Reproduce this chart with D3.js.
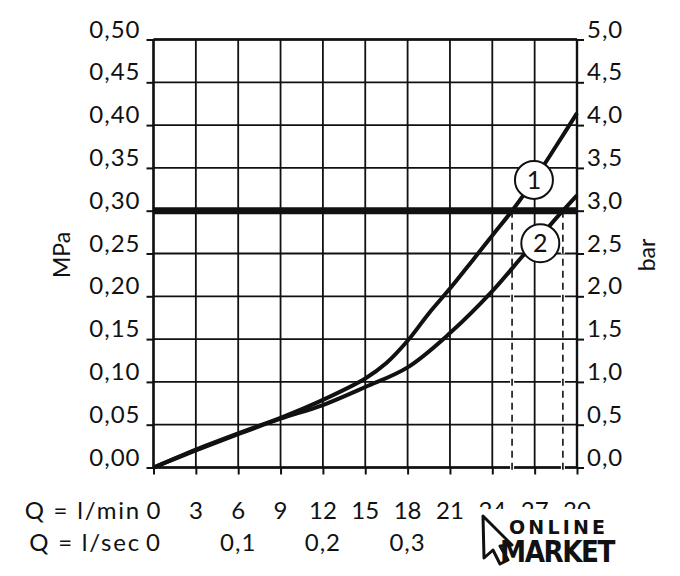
<!DOCTYPE html>
<html>
<head>
<meta charset="utf-8">
<script src="https://cdn.jsdelivr.net/npm/d3@7"></script>
<style>
body { margin: 0; background: #fff; }
text { font-family: Lato, "Noto Sans", sans-serif; fill: #111; }
</style>
</head>
<body>
<div id="viz"></div>
<script>
// tick values
var qTicks = [0, 3, 6, 9, 12, 15, 18, 21, 24, 27, 30];     // l/min
var secTicks = [0, 0.1, 0.2, 0.3];                          // l/sec
var mpaTicks = [0, 0.05, 0.10, 0.15, 0.20, 0.25, 0.30, 0.35, 0.40, 0.45, 0.50];
var barTicks = [0, 0.5, 1.0, 1.5, 2.0, 2.5, 3.0, 3.5, 4.0, 4.5, 5.0];

// curve 1 (flow l/min, pressure MPa)
var curve1Q = [0, 3, 6, 9, 12, 15, 16.5, 18, 19.5, 21, 22.7, 24, 25.4, 27, 28.5, 30];
var curve1P = [0, 0.021, 0.040, 0.058, 0.079, 0.104, 0.122, 0.148, 0.180, 0.209, 0.244, 0.271, 0.300, 0.337, 0.375, 0.414];

// curve 2
var curve2Q = [0, 3, 6, 9, 12, 15, 18, 21, 24, 26.2, 27.4, 29, 30];
var curve2P = [0, 0.020, 0.039, 0.057, 0.073, 0.094, 0.117, 0.157, 0.206, 0.248, 0.270, 0.300, 0.318];

// reference pressure line and the flows where curves hit it
var limitP = 0.30;
var crossQ = [25.4, 29.0];

// numbered markers on the curves
var markNames = ['1', '2'];
var markQ = [26.95, 27.4];
var markP = [0.336, 0.262];

var svg = d3.select('#viz').append('svg')
	.attr('width', 680)
	.attr('height', 576);

var x = d3.scaleLinear().domain([0, 30]).range([153.5, 577]);
var y = d3.scaleLinear().domain([0, 0.5]).range([467.5, 39.5]);
var yBar = d3.scaleLinear().domain([0, 5]).range([467.5, 39.5]);

function comma(v, n) { return v.toFixed(n).replace('.', ','); }

// grid
var grid = svg.append('g');
grid.selectAll('.vg').data(qTicks).enter().append('line')
	.attr('x1', d => x(d)).attr('x2', d => x(d))
	.attr('y1', y(0.5)).attr('y2', y(0))
	.attr('stroke', '#111').attr('stroke-width', 1.8);
grid.selectAll('.hg').data(mpaTicks).enter().append('line')
	.attr('x1', x(0)).attr('x2', x(30))
	.attr('y1', d => y(d)).attr('y2', d => y(d))
	.attr('stroke', '#111').attr('stroke-width', 1.8);

// frame lines a bit heavier
svg.append('line').attr('x1', x(0)).attr('x2', x(0)).attr('y1', y(0.5)).attr('y2', y(0))
	.attr('stroke', '#111').attr('stroke-width', 2.4);
svg.append('line').attr('x1', x(30)).attr('x2', x(30)).attr('y1', y(0.5)).attr('y2', y(0))
	.attr('stroke', '#111').attr('stroke-width', 2.4);
svg.append('line').attr('x1', x(0)).attr('x2', x(30)).attr('y1', y(0)).attr('y2', y(0))
	.attr('stroke', '#111').attr('stroke-width', 2.4);
svg.append('line').attr('x1', x(0)).attr('x2', x(30)).attr('y1', y(0.5)).attr('y2', y(0.5))
	.attr('stroke', '#111').attr('stroke-width', 2.4);

// left axis
var left = svg.append('g').attr('transform', 'translate(' + x(0) + ',0)')
	.call(d3.axisLeft(y).tickValues(mpaTicks).tickSize(7).tickPadding(6)
		.tickFormat(d => comma(d, 2)));
// right axis
var right = svg.append('g').attr('transform', 'translate(' + x(30) + ',0)')
	.call(d3.axisRight(yBar).tickValues(barTicks).tickSize(7).tickPadding(3)
		.tickFormat(d => comma(d, 1)));
// bottom tick marks
var bottom = svg.append('g').attr('transform', 'translate(0,' + y(0) + ')')
	.call(d3.axisBottom(x).tickValues(qTicks).tickSize(7).tickFormat(''));

[left, right, bottom].forEach(function(g) {
	g.select('.domain').remove();
	g.selectAll('.tick line').attr('stroke', '#111').attr('stroke-width', 2);
	g.selectAll('.tick text')
		.attr('style', 'font-size: 24px; letter-spacing: 1px; font-family: Lato, sans-serif')
		.attr('fill', '#111')
		.attr('dy', '-0.1em');
});

// axis titles
svg.append('text')
	.attr('transform', 'translate(70,255) rotate(-90)')
	.attr('text-anchor', 'middle')
	.attr('style', 'font-size: 23px')
	.text('MPa');
svg.append('text')
	.attr('transform', 'translate(655,255) rotate(-90)')
	.attr('text-anchor', 'middle')
	.attr('style', 'font-size: 23px')
	.text('bar');

// dashed drop lines
crossQ.forEach(function(q) {
	svg.append('line')
		.attr('x1', x(q)).attr('x2', x(q)).attr('y1', y(limitP)).attr('y2', y(0) + 4)
		.attr('stroke', '#fff').attr('stroke-width', 4).attr('stroke-dasharray', '7,5');
	svg.append('line')
		.attr('x1', x(q)).attr('x2', x(q)).attr('y1', y(limitP)).attr('y2', y(0) + 4)
		.attr('stroke', '#111').attr('stroke-width', 1.6).attr('stroke-dasharray', '7,5');
});

// curves
var line = d3.line()
	.x(d => x(d[0]))
	.y(d => y(d[1]))
	.curve(d3.curveCatmullRom.alpha(0.5));
var c1 = curve1Q.map((q, i) => [q, curve1P[i]]);
var c2 = curve2Q.map((q, i) => [q, curve2P[i]]);
svg.append('path').datum(c2).attr('d', line)
	.attr('fill', 'none').attr('stroke', '#111').attr('stroke-width', 4);
svg.append('path').datum(c1).attr('d', line)
	.attr('fill', 'none').attr('stroke', '#111').attr('stroke-width', 4);

// thick limit line
svg.append('line')
	.attr('x1', x(0)).attr('x2', x(30))
	.attr('y1', y(limitP)).attr('y2', y(limitP))
	.attr('stroke', '#111').attr('stroke-width', 7);

// numbered markers
markNames.forEach(function(n, i) {
	svg.append('circle')
		.attr('cx', x(markQ[i])).attr('cy', y(markP[i])).attr('r', 19)
		.attr('fill', '#fff').attr('stroke', '#111').attr('stroke-width', 2);
	svg.append('text')
		.attr('x', x(markQ[i])).attr('y', y(markP[i]))
		.attr('dy', '0.36em')
		.attr('text-anchor', 'middle')
		.attr('style', 'font-size: 25px')
		.text(n);
});

// flow labels under the chart
svg.append('text').attr('x', 141).attr('y', 519).attr('text-anchor', 'end')
	.attr('style', 'font-size: 24px; letter-spacing: 1.8px').text('Q = l/min');
svg.append('text').attr('x', 141).attr('y', 551).attr('text-anchor', 'end')
	.attr('style', 'font-size: 24px; letter-spacing: 1.8px').text('Q = l/sec');
svg.selectAll('.qlab').data(qTicks).enter().append('text')
	.attr('x', d => x(d)).attr('y', 519)
	.attr('text-anchor', 'middle')
	.attr('style', 'font-size: 24px')
	.text(d => d);
svg.selectAll('.slab').data(secTicks).enter().append('text')
	.attr('x', d => x(d * 60)).attr('y', 551)
	.attr('text-anchor', 'middle')
	.attr('style', 'font-size: 24px; letter-spacing: 1px')
	.text(d => d === 0 ? '0' : comma(d, 1));

// watermark logo, with white backing that clips the last labels
var logo = svg.append('g');
logo.append('rect').attr('x', 470).attr('y', 509).attr('width', 160).attr('height', 60).attr('fill', '#fff');
logo.append('path')
	.attr('d', 'M483,516 L512,545 L500,546 L508,560 L500,564 L493,550 L484,558 Z')
	.attr('fill', '#fff').attr('stroke', '#111').attr('stroke-width', 3).attr('stroke-linejoin', 'round');
logo.append('text').attr('x', 509).attr('y', 534)
	.attr('style', 'font-size: 19px; font-weight: 900; letter-spacing: 8px; font-family: "DejaVu Sans", sans-serif')
	.attr('textLength', 104).attr('lengthAdjust', 'spacing')
	.text('ONLINE');
logo.append('text').attr('x', 500).attr('y', 562)
	.attr('style', 'font-size: 30px; font-weight: 900; letter-spacing: -1.5px; font-family: "DejaVu Sans Condensed", "DejaVu Sans", sans-serif')
	.attr('textLength', 114).attr('lengthAdjust', 'spacingAndGlyphs')
	.text('MARKET');
</script>
</body>
</html>
